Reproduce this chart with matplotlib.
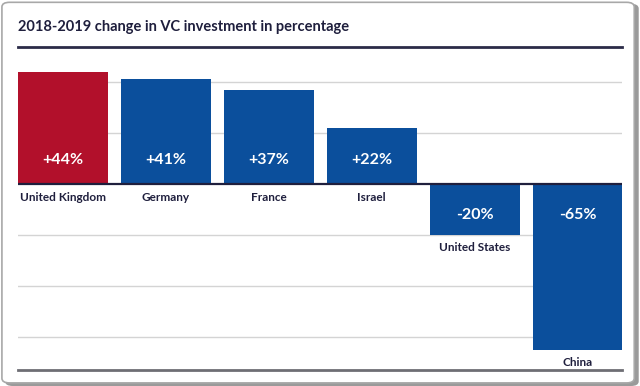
import matplotlib.pyplot as plt
from matplotlib.patches import FancyBboxPatch

# data
countries = ['United Kingdom', 'Germany', 'France', 'Israel', 'United States', 'China']
change = [44, 41, 37, 22, -20, -65]
labels = ['+44%', '+41%', '+37%', '+22%', '-20%', '-65%']
bar_colors = ['#b2102b', '#0b4f9c', '#0b4f9c', '#0b4f9c', '#0b4f9c', '#0b4f9c']
grid_vals = [40, 20, -20, -40, -60]

navy = '#1f1f3d'
plt.rcParams['font.family'] = ['Lato', 'DejaVu Sans']

fig = plt.figure(figsize=(6.4, 3.86), dpi=100)

# rounded frame with a bit of shadow
shadow = FancyBboxPatch((0.008, 0.0), 0.99, 0.99, boxstyle='round,pad=0,rounding_size=0.012',
                        transform=fig.transFigure, facecolor='#9a9a9a', edgecolor='none', zorder=-2)
frame = FancyBboxPatch((0.003, 0.008), 0.988, 0.986, boxstyle='round,pad=0,rounding_size=0.012',
                       transform=fig.transFigure, facecolor='white', edgecolor='#a8a8a8', lw=1.2, zorder=-1)
fig.patches.extend([shadow, frame])

ax = fig.add_axes([18 / 640, 1 - 370 / 386, 604 / 640, 323 / 386])
ax.set_zorder(2)
ax.set_facecolor('none')

x = range(len(countries))
bars = ax.bar(x, change, width=0.87, color=bar_colors, zorder=2)

for g in grid_vals:
    ax.axhline(g, color='#d4d4d4', lw=1, zorder=1)
ax.axhline(0, color=navy, lw=1.6, zorder=3)

for i, (v, lab, name) in enumerate(zip(change, labels, countries)):
    if v > 0:
        ax.annotate(lab, (i, 0), xytext=(0, 17), textcoords='offset points',
                    ha='center', va='center', color='white', fontsize=11.5, fontweight='bold', zorder=4)
        ax.annotate(name, (i, 0), xytext=(0, -10), textcoords='offset points',
                    ha='center', va='center', color=navy, fontsize=8.5, fontweight='bold', zorder=4)
    else:
        ax.annotate(lab, (i, 0), xytext=(0, -22), textcoords='offset points',
                    ha='center', va='center', color='white', fontsize=11.5, fontweight='bold', zorder=4)
        ax.annotate(name, (i, v), xytext=(0, -9), textcoords='offset points',
                    ha='center', va='center', color=navy, fontsize=8.5, fontweight='bold', zorder=4)

ax.set_xlim(-0.435, 5.43)
ax.set_ylim(-72.9, 53.7)
ax.set_xticks([])
ax.set_yticks([])
for s in ['left', 'right']:
    ax.spines[s].set_visible(False)
ax.spines['top'].set_color('#2b2b48')
ax.spines['top'].set_linewidth(2)
ax.spines['bottom'].set_color('#6e6e74')
ax.spines['bottom'].set_linewidth(2)

fig.text(18 / 640, 1 - 27 / 386, '2018-2019 change in VC investment in percentage',
         ha='left', va='center', color=navy, fontsize=10.5, fontweight='bold')

fig.savefig('out.png', dpi=100)
